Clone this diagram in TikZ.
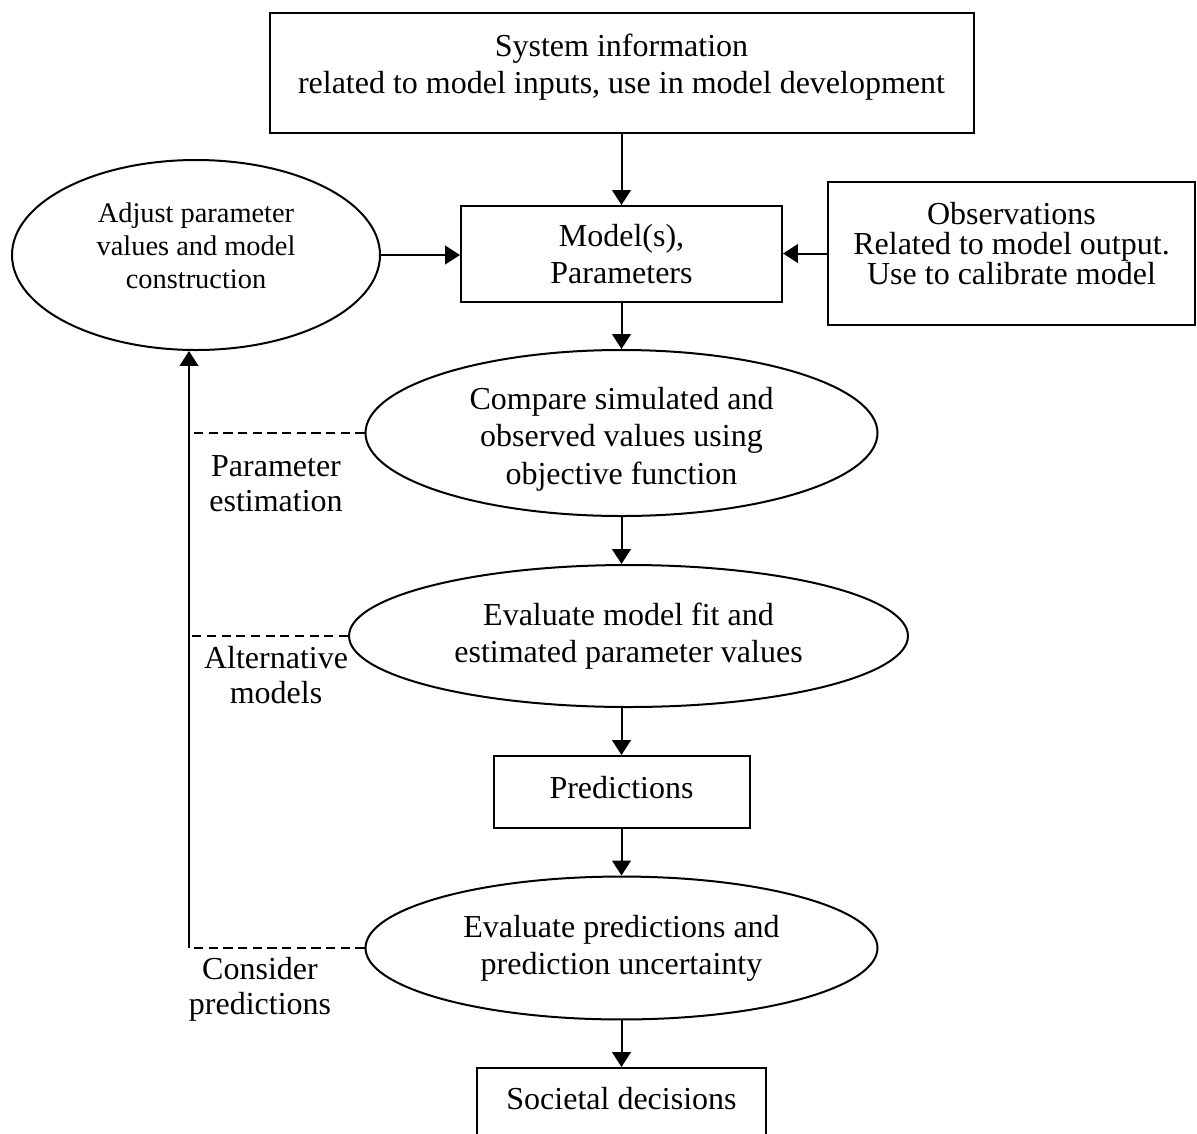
\documentclass[tikz,border=0pt]{standalone}
\usepackage{fontspec}
\setmainfont{Liberation Serif}
\usetikzlibrary{shapes.geometric,arrows.meta}

\begin{document}
\begin{tikzpicture}[x=0.375pt, y=-0.375pt,
  box/.style={draw, rectangle, line width=0.75pt, inner sep=0pt, align=center,
    font=\fontsize{12}{13.9}\selectfont},
  oval/.style={draw, ellipse, line width=0.75pt, inner sep=0pt, align=center,
    font=\fontsize{12}{13.9}\selectfont},
  side/.style={inner sep=0pt, align=center, anchor=north,
    font=\fontsize{12}{13}\selectfont},
  flow/.style={-{Triangle[length=5.6pt,width=7pt]}, line width=0.75pt},
  guide/.style={line width=0.75pt, dash pattern=on 3.4pt off 2.1pt}]
  \clip (0,0) rectangle (1197,1133);
  % Nodes
  \node[box, minimum width=264pt, minimum height=45pt, text depth=7.1pt] (SysInfo) at (621.5,73)
    {System information\\related to model inputs, use in model development};
  \node[box, minimum width=120.4pt, minimum height=36pt] (Model) at (621.5,254) {Model(s),\\Parameters};
  \node[box, minimum width=137.6pt, minimum height=53.6pt, text depth=7.9pt,
    font=\fontsize{12}{11.25}\selectfont] (Obs) at (1011.5,253.5)
    {Observations\\Related to model output.\\Use to calibrate model};
  \node[oval, minimum width=138pt, minimum height=71.25pt, text depth=7.3pt,
    font=\fontsize{10.65}{12.4}\selectfont] (Adjust) at (196,255)
    {Adjust parameter\\values and model\\construction};
  \node[oval, minimum width=192pt, minimum height=62.25pt, text height=38.25pt, text depth=0pt] (Compare) at (621.5,433)
    {Compare simulated and\\observed values using\\objective function};
  \node[oval, minimum width=209.6pt, minimum height=53.25pt] (EvalFit) at (628.5,636)
    {Evaluate model fit and\\estimated parameter values};
  \node[box, minimum width=96pt, minimum height=27pt, text depth=3.75pt] (Pred) at (621.5,792) {Predictions};
  \node[oval, minimum width=192pt, minimum height=53.6pt] (EvalPred) at (621.5,948)
    {Evaluate predictions and\\prediction uncertainty};
  \node[box, minimum width=108.4pt, minimum height=27pt, text depth=4.5pt] (Decide) at (621.5,1104)
    {Societal decisions};
  \coordinate (Corner) at (189,948);
  % Labels
  \node[side] (ParEst) at (276,455) {Parameter\\estimation};
  \node[side] (AltMod) at (276,646) {Alternative\\models};
  \node[side] (ConsPred) at (260,957) {Consider\\predictions};
  % Edges
  \draw[flow] (SysInfo.south) -- (Model.north);
  \draw[flow] (Adjust.east) -- (Adjust.east -| Model.west);
  \draw[flow] (Obs.west) -- (Obs.west -| Model.east);
  \draw[flow] (Model.south) -- (Compare.north);
  \draw[flow] (Compare.south) -- (Compare.south |- EvalFit.north);
  \draw[flow] (Pred.north |- EvalFit.south) -- (Pred.north);
  \draw[flow] (Pred.south) -- (EvalPred.north);
  \draw[flow] (EvalPred.south) -- (Decide.north);
  % Feedback
  \draw[flow] (Corner) -- (Corner |- Adjust.south);
  \draw[guide] (Compare.west) -- (Compare.west -| Corner);
  \draw[guide] (EvalFit.west) -- (EvalFit.west -| Corner);
  \draw[guide] (EvalPred.west) -- (Corner);
\end{tikzpicture}
\end{document}
